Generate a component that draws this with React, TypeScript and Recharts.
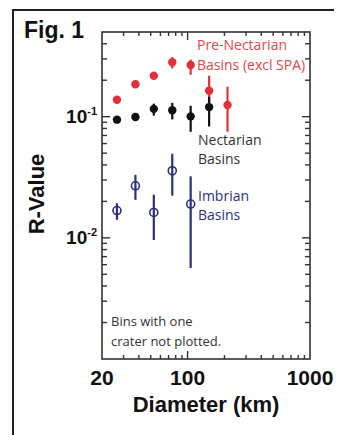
import { ScatterChart, Scatter, XAxis, YAxis, ErrorBar } from 'recharts'

// bin centres (km)
const diameters = [26.5, 37.5, 53, 75, 106, 150, 212]

const preNectValue = [0.138, 0.185, 0.218, 0.281, 0.267, 0.164, 0.125]
const preNectLow = [0.134, 0.18, 0.212, 0.25, 0.222, 0.11, 0.075]
const preNectHigh = [0.142, 0.19, 0.225, 0.31, 0.296, 0.218, 0.177]

const nectValue = [0.0945, 0.0994, 0.116, 0.113, 0.1006, 0.12]
const nectLow = [0.091, 0.094, 0.102, 0.095, 0.075, 0.083]
const nectHigh = [0.098, 0.105, 0.128, 0.13, 0.123, 0.146]

const imbValue = [0.0168, 0.0269, 0.0162, 0.0358, 0.019]
const imbLow = [0.0141, 0.0206, 0.0096, 0.0223, 0.00563]
const imbHigh = [0.0193, 0.0331, 0.0227, 0.0494, 0.0322]

const xTicks = [20, 30, 40, 50, 60, 70, 80, 90, 100, 200, 300, 400, 500, 600, 700, 800, 900, 1000]
const xLabels = [20, 100, 1000]
const yTicks = [
  0.002, 0.003, 0.004, 0.005, 0.006, 0.007, 0.008, 0.009, 0.01,
  0.02, 0.03, 0.04, 0.05, 0.06, 0.07, 0.08, 0.09, 0.1,
  0.2, 0.3, 0.4,
]
const yLabels: Record<string, string> = { '0.1': '-1', '0.01': '-2' }

const X_DOMAIN = [20, 1000]
const Y_DOMAIN = [0.001, 0.5]

const RED = '#e2313b'
const NAVY = '#2c2f7f'
const AXIS = '#333333'
const BOLD = '"Liberation Sans", Arial, sans-serif'
const SANS = '"Open Sans", sans-serif'

// plot box, from the chart margins and axis sizes below
const W = 342
const H = 435
const M = { top: 32, right: 32, bottom: 76, left: 102 }
const box = { x0: M.left, x1: W - M.right, y0: M.top, y1: H - M.bottom }

const build = (v: number[], lo: number[], hi: number[]) =>
  v.map((r, i) => ({ d: diameters[i], r, err: [r - lo[i], hi[i] - r] }))

const preNect = build(preNectValue, preNectLow, preNectHigh)
const nect = build(nectValue, nectLow, nectHigh)
const imb = build(imbValue, imbLow, imbHigh)

const logPos = (v: number, d: number[], a: number, b: number) =>
  a + ((Math.log10(v) - Math.log10(d[0])) / (Math.log10(d[1]) - Math.log10(d[0]))) * (b - a)

function XTick({ x, y, payload }: any) {
  const v = payload.value
  if (!xLabels.includes(v)) return <g />
  return (
    <text x={x} y={y + 26} textAnchor="middle" fontFamily={BOLD} fontWeight="bold" fontSize={21} fill="#111">
      {v}
    </text>
  )
}

function YTick({ x, y, payload }: any) {
  const sup = yLabels[String(payload.value)]
  if (!sup) return <g />
  return (
    <text x={x - 5} y={y + 6} textAnchor="end" fontFamily={BOLD} fontWeight="bold" fontSize={19} fill="#111">
      10
      <tspan fontSize={11} dy={-8}>{sup}</tspan>
    </text>
  )
}

function RedDot(p: any) {
  return <circle cx={p.cx} cy={p.cy} r={4.2} fill={RED} />
}
function BlackDot(p: any) {
  return <circle cx={p.cx} cy={p.cy} r={4.2} fill="#111" />
}
function OpenDot(p: any) {
  return <circle cx={p.cx} cy={p.cy} r={4} fill="none" stroke={NAVY} strokeWidth={1.6} />
}

const bottomTick = <XTick />
const leftTick = <YTick />

const txt = (left: number, top: number, color: string, size: number, family = SANS, bold = false): any => ({
  position: 'absolute',
  left,
  top,
  color,
  fontSize: size,
  fontFamily: family,
  fontWeight: bold ? 'bold' : 'normal',
  lineHeight: 1,
  whiteSpace: 'nowrap',
})

function Frame() {
  const { x0, x1, y0, y1 } = box
  return (
    <svg width={W} height={H} style={{ position: 'absolute', left: 0, top: 0 }}>
      <rect x={x0} y={y0} width={x1 - x0} height={y1 - y0} fill="none" stroke={AXIS} strokeWidth={1.6} />
      {xTicks.filter((v) => v !== X_DOMAIN[0] && v !== X_DOMAIN[1]).map((v) => {
        const x = logPos(v, X_DOMAIN, x0, x1)
        const len = v === 100 ? 8 : 4
        return (
          <g key={'x' + v}>
            <line x1={x} x2={x} y1={y1} y2={y1 - len} stroke={AXIS} strokeWidth={1.4} />
            <line x1={x} x2={x} y1={y0} y2={y0 + len} stroke={AXIS} strokeWidth={1.4} />
          </g>
        )
      })}
      {yTicks.map((v) => {
        const y = logPos(v, Y_DOMAIN, y1, y0)
        const len = yLabels[String(v)] ? 8 : 5
        return (
          <g key={'y' + v}>
            <line x1={x0} x2={x0 + len} y1={y} y2={y} stroke={AXIS} strokeWidth={1.4} />
            <line x1={x1} x2={x1 - len} y1={y} y2={y} stroke={AXIS} strokeWidth={1.4} />
          </g>
        )
      })}
    </svg>
  )
}

export default function App() {
  return (
    <div style={{ position: 'relative', margin: '-8px 0 0 -8px', width: W, height: H, overflow: 'hidden' }}>
      <Frame />
      <ScatterChart width={W} height={H} margin={{ top: M.top, right: M.right, bottom: 0, left: 0 }}>
        <XAxis
          dataKey="d"
          type="number"
          scale="log"
          domain={X_DOMAIN}
          allowDataOverflow
          ticks={xTicks}
          interval={0}
          tickSize={0}
          tickMargin={0}
          tickLine={false}
          axisLine={false}
          tick={bottomTick}
          height={M.bottom}
        />
        <YAxis
          dataKey="r"
          type="number"
          scale="log"
          domain={Y_DOMAIN}
          allowDataOverflow
          ticks={yTicks}
          interval={0}
          tickSize={0}
          tickMargin={0}
          tickLine={false}
          axisLine={false}
          tick={leftTick}
          width={M.left}
        />
        <Scatter data={preNect} shape={RedDot} isAnimationActive={false}>
          <ErrorBar dataKey="err" direction="y" width={0} stroke={RED} strokeWidth={2.2} />
        </Scatter>
        <Scatter data={nect} shape={BlackDot} isAnimationActive={false}>
          <ErrorBar dataKey="err" direction="y" width={0} stroke="#111" strokeWidth={2.2} />
        </Scatter>
        <Scatter data={imb} shape={OpenDot} isAnimationActive={false}>
          <ErrorBar dataKey="err" direction="y" width={0} stroke={NAVY} strokeWidth={2.2} />
        </Scatter>
      </ScatterChart>
      <div style={{ position: 'absolute', left: 0, top: 0, width: W, height: H, pointerEvents: 'none' }}>
        <div style={{ position: 'absolute', left: 12, top: 9, width: 340, height: 440, borderLeft: '2px solid #222', borderTop: '2px solid #222' }} />
        <span style={txt(24, 18.5, '#111', 23, BOLD, true)}>Fig. 1</span>
        <span style={{ ...txt(37, 194, '#111', 22, BOLD, true), transform: 'translate(-50%, -50%) rotate(-90deg)' }}>R-Value</span>
        <span style={{ ...txt(206, 393.5, '#111', 22, BOLD, true), transform: 'translateX(-50%)' }}>Diameter (km)</span>
        <span style={txt(197, 37.6, '#e5454d', 14)}>Pre-Nectarian</span>
        <span style={txt(197, 57.6, '#e5454d', 14)}>Basins (excl SPA)</span>
        <span style={txt(198, 132.6, '#333', 14)}>Nectarian</span>
        <span style={txt(198, 151.6, '#333', 14)}>Basins</span>
        <span style={txt(198, 188.6, NAVY, 14)}>Imbrian</span>
        <span style={txt(198, 207.6, NAVY, 14)}>Basins</span>
        <span style={txt(111, 314.5, '#333', 13)}>Bins with one</span>
        <span style={txt(111, 334.5, '#333', 13)}>crater not plotted.</span>
      </div>
    </div>
  )
}
